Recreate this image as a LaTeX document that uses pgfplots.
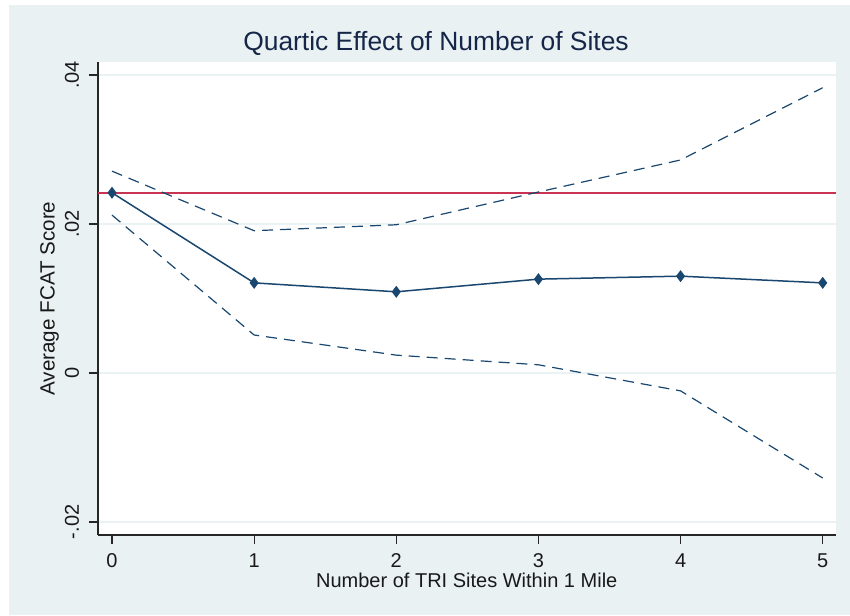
\documentclass[border=0pt]{standalone}
\usepackage{pgfplots}
\pgfplotsset{compat=1.18}
\usepackage{fontspec}
\setmainfont{Liberation Sans}
\definecolor{bgc}{RGB}{233,241,243}
\definecolor{stnavy}{RGB}{26,71,111}
\definecolor{ttl}{RGB}{22,38,72}
\definecolor{strd}{RGB}{200,52,82}
\definecolor{gridc}{RGB}{234,242,243}
\begin{document}
\begin{tikzpicture}[x=0.5pt,y=0.5pt]
\useasboundingbox (0,0) rectangle (850,615);
\fill[white] (0,0) rectangle (850,615);
\fill[bgc] (9,0) rectangle (850,610);
\begin{axis}[
  at={(56pt,121pt)}, anchor=origin,
  scale only axis, width=368.75pt, height=236.5pt,
  xmin=-0.0985, xmax=5.09, ymin=-0.02175, ymax=0.04175,
  scaled y ticks=false, scaled x ticks=false,
  axis background/.style={fill=white},
  axis x line=bottom, axis y line=left,
  axis line style={-, line width=0.6pt, color=black!85},
  tick align=outside, major tick length=4.5pt,
  tick style={line width=0.6pt, color=black!85},
  xtick={0,1,2,3,4,5}, xticklabels={0,1,2,3,4,5},
  ytick={-0.02,0,0.02,0.04}, yticklabels={-.02,0,.02,.04},
  ymajorgrids, major grid style={color=gridc, line width=0.7pt},
  tick label style={font=\fontsize{10}{12}\selectfont, color=black!90},
  xticklabel style={anchor=center, yshift=-8.5pt},
  yticklabel style={rotate=90, anchor=center, yshift=8.5pt},
  title={Quartic Effect of Number of Sites},
  title style={at={(axis description cs:0.4583,1.0402)}, anchor=center, yshift=-6pt, font=\fontsize{13.2}{15}\selectfont, color=ttl},
  xlabel={Number of TRI Sites Within 1 Mile},
  ylabel={Average FCAT Score},
  xlabel style={at={(axis description cs:0.5,-0.0951)}, anchor=center, font=\fontsize{10}{12}\selectfont, color=black!90},
  ylabel style={at={(axis description cs:-0.0658,0.5)}, anchor=center, font=\fontsize{10.3}{12}\selectfont, color=black!90},
  clip=false,
]
\addplot[color=strd, line width=0.8pt, forget plot] coordinates {(-0.0985,0.0242) (5.09,0.0242)};
\addplot[color=stnavy, line width=0.6pt, dash pattern=on 5.5pt off 3.5pt] coordinates {
(0,0.0271) (1,0.0191) (2,0.0199) (3,0.0243) (4,0.0286) (5,0.0383)};
\addplot[color=stnavy, line width=0.6pt, dash pattern=on 5.5pt off 3.5pt] coordinates {
(0,0.0212) (1,0.0051) (2,0.0024) (3,0.0011) (4,-0.0024) (5,-0.0141)};
\addplot[color=stnavy, line width=0.75pt, mark=diamond*, mark size=2.4pt, mark options={solid, fill=stnavy, draw=stnavy}] coordinates {
(0,0.0242) (1,0.0121) (2,0.0109) (3,0.0126) (4,0.0130) (5,0.0121)};
\end{axis}
\end{tikzpicture}
\end{document}
